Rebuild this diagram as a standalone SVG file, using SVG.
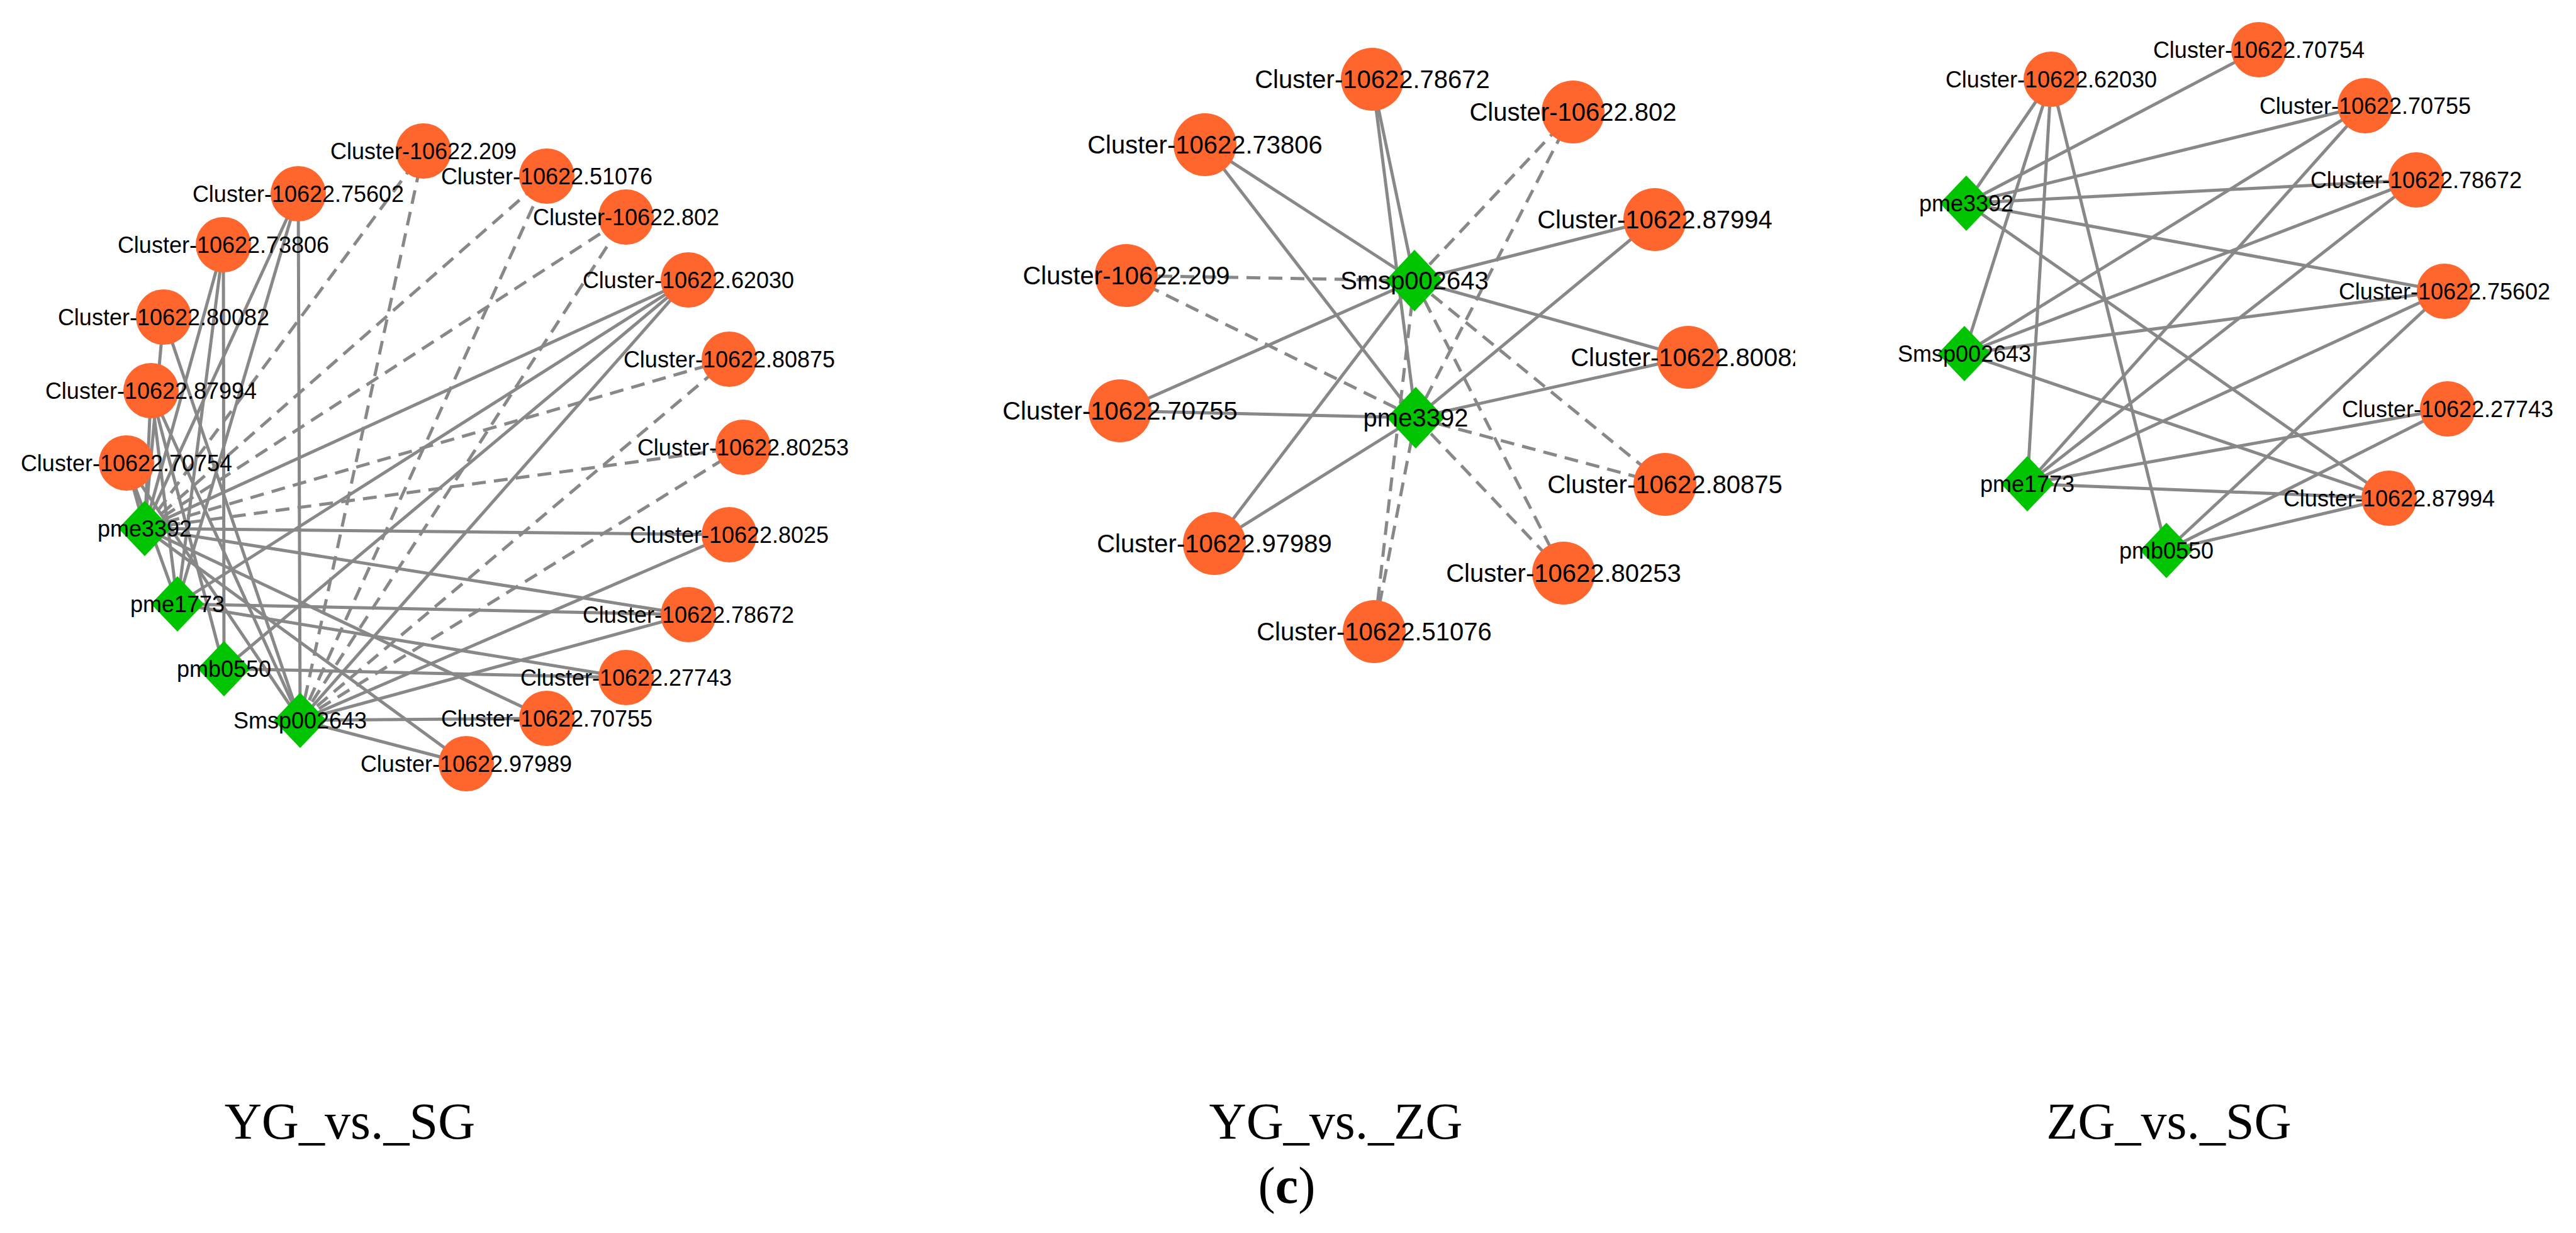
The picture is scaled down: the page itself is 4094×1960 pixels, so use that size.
<svg xmlns="http://www.w3.org/2000/svg" width="4094" height="1960" viewBox="0 0 4094 1960">
<style>
.e{stroke:#888;stroke-width:5;fill:none}
.d{stroke-dasharray:22 13}
.c{fill:#FF662E}
.g{fill:#00C400}
.t1{font-family:"Liberation Sans",Arial,sans-serif;font-size:36px;fill:#000;text-anchor:middle}
.t2{font-family:"Liberation Sans",Arial,sans-serif;font-size:40px;fill:#000;text-anchor:middle}
.ti{font-family:"Liberation Serif","Times New Roman",serif;font-size:82px;fill:#000;text-anchor:middle}
</style>
<defs>
<clipPath id="cp2"><rect x="1500" y="0" width="1353" height="1300"/></clipPath>
</defs>
<rect width="4094" height="1960" fill="#fff"/>

<!-- Panel 1 connectors -->
<g id="edges1">
<line class="e" x1="230" y1="840" x2="1094" y2="445"/>
<line class="e" x1="230" y1="840" x2="1159" y2="850"/>
<line class="e" x1="230" y1="840" x2="1094" y2="977"/>
<line class="e" x1="230" y1="840" x2="869" y2="1142"/>
<line class="e" x1="230" y1="840" x2="741" y2="1214"/>
<line class="e" x1="230" y1="840" x2="474" y2="308"/>
<line class="e" x1="230" y1="840" x2="355" y2="389"/>
<line class="e" x1="230" y1="840" x2="260" y2="504"/>
<line class="e" x1="230" y1="840" x2="240" y2="621"/>
<line class="e" x1="230" y1="840" x2="201" y2="736"/>
<line class="e d" x1="230" y1="840" x2="673" y2="240"/>
<line class="e d" x1="230" y1="840" x2="869" y2="280"/>
<line class="e d" x1="230" y1="840" x2="995" y2="345"/>
<line class="e d" x1="230" y1="840" x2="1159" y2="571"/>
<line class="e d" x1="230" y1="840" x2="1181" y2="711"/>
<line class="e" x1="282" y1="960" x2="1094" y2="445"/>
<line class="e" x1="282" y1="960" x2="1094" y2="977"/>
<line class="e" x1="282" y1="960" x2="995" y2="1077"/>
<line class="e" x1="282" y1="960" x2="474" y2="308"/>
<line class="e" x1="282" y1="960" x2="355" y2="389"/>
<line class="e" x1="282" y1="960" x2="240" y2="621"/>
<line class="e" x1="282" y1="960" x2="201" y2="736"/>
<line class="e" x1="356" y1="1063" x2="1094" y2="445"/>
<line class="e" x1="356" y1="1063" x2="995" y2="1077"/>
<line class="e" x1="356" y1="1063" x2="355" y2="389"/>
<line class="e" x1="356" y1="1063" x2="240" y2="621"/>
<line class="e" x1="477" y1="1145" x2="1094" y2="445"/>
<line class="e" x1="477" y1="1145" x2="1159" y2="850"/>
<line class="e" x1="477" y1="1145" x2="1094" y2="977"/>
<line class="e" x1="477" y1="1145" x2="869" y2="1142"/>
<line class="e" x1="477" y1="1145" x2="741" y2="1214"/>
<line class="e" x1="477" y1="1145" x2="474" y2="308"/>
<line class="e" x1="477" y1="1145" x2="240" y2="621"/>
<line class="e" x1="477" y1="1145" x2="260" y2="504"/>
<line class="e" x1="477" y1="1145" x2="201" y2="736"/>
<line class="e d" x1="477" y1="1145" x2="673" y2="240"/>
<line class="e d" x1="477" y1="1145" x2="869" y2="280"/>
<line class="e d" x1="477" y1="1145" x2="995" y2="345"/>
<line class="e d" x1="477" y1="1145" x2="1159" y2="571"/>
<line class="e d" x1="477" y1="1145" x2="1181" y2="711"/>
</g>

<!-- Panel 1 nodes -->
<g id="p1-c209"><circle class="c" cx="673" cy="240" r="44"/><text class="t1" x="673" y="253">Cluster-10622.209</text></g>
<g id="p1-c51076"><circle class="c" cx="869" cy="280" r="44"/><text class="t1" x="869" y="293">Cluster-10622.51076</text></g>
<g id="p1-c802"><circle class="c" cx="995" cy="345" r="44"/><text class="t1" x="995" y="358">Cluster-10622.802</text></g>
<g id="p1-c62030"><circle class="c" cx="1094" cy="445" r="44"/><text class="t1" x="1094" y="458">Cluster-10622.62030</text></g>
<g id="p1-c80875"><circle class="c" cx="1159" cy="571" r="44"/><text class="t1" x="1159" y="584">Cluster-10622.80875</text></g>
<g id="p1-c80253"><circle class="c" cx="1181" cy="711" r="44"/><text class="t1" x="1181" y="724">Cluster-10622.80253</text></g>
<g id="p1-c8025"><circle class="c" cx="1159" cy="850" r="44"/><text class="t1" x="1159" y="863">Cluster-10622.8025</text></g>
<g id="p1-c78672"><circle class="c" cx="1094" cy="977" r="44"/><text class="t1" x="1094" y="990">Cluster-10622.78672</text></g>
<g id="p1-c27743"><circle class="c" cx="995" cy="1077" r="44"/><text class="t1" x="995" y="1090">Cluster-10622.27743</text></g>
<g id="p1-c70755"><circle class="c" cx="869" cy="1142" r="44"/><text class="t1" x="869" y="1155">Cluster-10622.70755</text></g>
<g id="p1-c97989"><circle class="c" cx="741" cy="1214" r="44"/><text class="t1" x="741" y="1227">Cluster-10622.97989</text></g>
<g id="p1-c75602"><circle class="c" cx="474" cy="308" r="44"/><text class="t1" x="474" y="321">Cluster-10622.75602</text></g>
<g id="p1-c73806"><circle class="c" cx="355" cy="389" r="44"/><text class="t1" x="355" y="402">Cluster-10622.73806</text></g>
<g id="p1-c80082"><circle class="c" cx="260" cy="504" r="44"/><text class="t1" x="260" y="517">Cluster-10622.80082</text></g>
<g id="p1-c87994"><circle class="c" cx="240" cy="621" r="44"/><text class="t1" x="240" y="634">Cluster-10622.87994</text></g>
<g id="p1-c70754"><circle class="c" cx="201" cy="736" r="44"/><text class="t1" x="201" y="749">Cluster-10622.70754</text></g>
<g id="p1-pme3392"><polygon class="g" points="230,796 272,840 230,884 188,840"/><text class="t1" x="230" y="853">pme3392</text></g>
<g id="p1-pme1773"><polygon class="g" points="282,916 324,960 282,1004 240,960"/><text class="t1" x="282" y="973">pme1773</text></g>
<g id="p1-pmb0550"><polygon class="g" points="356,1019 398,1063 356,1107 314,1063"/><text class="t1" x="356" y="1076">pmb0550</text></g>
<g id="p1-smsp"><polygon class="g" points="477,1101 519,1145 477,1189 435,1145"/><text class="t1" x="477" y="1158">Smsp002643</text></g>

<!-- Panel 2 -->
<g clip-path="url(#cp2)">
<g id="edges2">
<line class="e" x1="2248" y1="446" x2="2181" y2="126"/>
<line class="e" x1="2248" y1="446" x2="1915" y2="230"/>
<line class="e d" x1="2248" y1="446" x2="1790" y2="438"/>
<line class="e d" x1="2248" y1="446" x2="2500" y2="178"/>
<line class="e" x1="2248" y1="446" x2="2630" y2="349"/>
<line class="e" x1="2248" y1="446" x2="2683" y2="568"/>
<line class="e d" x1="2248" y1="446" x2="2646" y2="770"/>
<line class="e d" x1="2248" y1="446" x2="2485" y2="911"/>
<line class="e" x1="2248" y1="446" x2="1780" y2="653"/>
<line class="e" x1="2248" y1="446" x2="1930" y2="864"/>
<line class="e d" x1="2248" y1="446" x2="2184" y2="1004"/>
<line class="e" x1="2250" y1="664" x2="2181" y2="126"/>
<line class="e" x1="2250" y1="664" x2="1915" y2="230"/>
<line class="e d" x1="2250" y1="664" x2="1790" y2="438"/>
<line class="e d" x1="2250" y1="664" x2="2500" y2="178"/>
<line class="e" x1="2250" y1="664" x2="2630" y2="349"/>
<line class="e" x1="2250" y1="664" x2="2683" y2="568"/>
<line class="e d" x1="2250" y1="664" x2="2646" y2="770"/>
<line class="e d" x1="2250" y1="664" x2="2485" y2="911"/>
<line class="e" x1="2250" y1="664" x2="1780" y2="653"/>
<line class="e" x1="2250" y1="664" x2="1930" y2="864"/>
<line class="e d" x1="2250" y1="664" x2="2184" y2="1004"/>
</g>
<g id="p2-c78672"><circle class="c" cx="2181" cy="126" r="50"/><text class="t2" x="2181" y="140">Cluster-10622.78672</text></g>
<g id="p2-c802"><circle class="c" cx="2500" cy="178" r="50"/><text class="t2" x="2500" y="192">Cluster-10622.802</text></g>
<g id="p2-c73806"><circle class="c" cx="1915" cy="230" r="50"/><text class="t2" x="1915" y="244">Cluster-10622.73806</text></g>
<g id="p2-c87994"><circle class="c" cx="2630" cy="349" r="50"/><text class="t2" x="2630" y="363">Cluster-10622.87994</text></g>
<g id="p2-c209"><circle class="c" cx="1790" cy="438" r="50"/><text class="t2" x="1790" y="452">Cluster-10622.209</text></g>
<g id="p2-c80082"><circle class="c" cx="2683" cy="568" r="50"/><text class="t2" x="2683" y="582">Cluster-10622.80082</text></g>
<g id="p2-c70755"><circle class="c" cx="1780" cy="653" r="50"/><text class="t2" x="1780" y="667">Cluster-10622.70755</text></g>
<g id="p2-c80875"><circle class="c" cx="2646" cy="770" r="50"/><text class="t2" x="2646" y="784">Cluster-10622.80875</text></g>
<g id="p2-c97989"><circle class="c" cx="1930" cy="864" r="50"/><text class="t2" x="1930" y="878">Cluster-10622.97989</text></g>
<g id="p2-c80253"><circle class="c" cx="2485" cy="911" r="50"/><text class="t2" x="2485" y="925">Cluster-10622.80253</text></g>
<g id="p2-c51076"><circle class="c" cx="2184" cy="1004" r="50"/><text class="t2" x="2184" y="1018">Cluster-10622.51076</text></g>
<g id="p2-smsp"><polygon class="g" points="2248,397 2294,446 2248,495 2202,446"/><text class="t2" x="2248" y="460">Smsp002643</text></g>
<g id="p2-pme3392"><polygon class="g" points="2250,615 2296,664 2250,713 2204,664"/><text class="t2" x="2250" y="678">pme3392</text></g>
</g>

<!-- Panel 3 -->
<g id="edges3">
<line class="e" x1="3125" y1="323" x2="3260" y2="126"/>
<line class="e" x1="3122" y1="562" x2="3260" y2="126"/>
<line class="e" x1="3222" y1="769" x2="3260" y2="126"/>
<line class="e" x1="3443" y1="875" x2="3260" y2="126"/>
<line class="e" x1="3125" y1="323" x2="3590" y2="79"/>
<line class="e" x1="3125" y1="323" x2="3759" y2="168"/>
<line class="e" x1="3122" y1="562" x2="3759" y2="168"/>
<line class="e" x1="3222" y1="769" x2="3759" y2="168"/>
<line class="e" x1="3125" y1="323" x2="3840" y2="286"/>
<line class="e" x1="3122" y1="562" x2="3840" y2="286"/>
<line class="e" x1="3222" y1="769" x2="3840" y2="286"/>
<line class="e" x1="3125" y1="323" x2="3885" y2="463"/>
<line class="e" x1="3122" y1="562" x2="3885" y2="463"/>
<line class="e" x1="3222" y1="769" x2="3885" y2="463"/>
<line class="e" x1="3443" y1="875" x2="3885" y2="463"/>
<line class="e" x1="3222" y1="769" x2="3890" y2="650"/>
<line class="e" x1="3443" y1="875" x2="3890" y2="650"/>
<line class="e" x1="3125" y1="323" x2="3797" y2="792"/>
<line class="e" x1="3122" y1="562" x2="3797" y2="792"/>
<line class="e" x1="3222" y1="769" x2="3797" y2="792"/>
<line class="e" x1="3443" y1="875" x2="3797" y2="792"/>
</g>
<g id="p3-c70754"><circle class="c" cx="3590" cy="79" r="44"/><text class="t1" x="3590" y="92">Cluster-10622.70754</text></g>
<g id="p3-c62030"><circle class="c" cx="3260" cy="126" r="44"/><text class="t1" x="3260" y="139">Cluster-10622.62030</text></g>
<g id="p3-c70755"><circle class="c" cx="3759" cy="168" r="44"/><text class="t1" x="3759" y="181">Cluster-10622.70755</text></g>
<g id="p3-c78672"><circle class="c" cx="3840" cy="286" r="44"/><text class="t1" x="3840" y="299">Cluster-10622.78672</text></g>
<g id="p3-c75602"><circle class="c" cx="3885" cy="463" r="44"/><text class="t1" x="3885" y="476">Cluster-10622.75602</text></g>
<g id="p3-c27743"><circle class="c" cx="3890" cy="650" r="44"/><text class="t1" x="3890" y="663">Cluster-10622.27743</text></g>
<g id="p3-c87994"><circle class="c" cx="3797" cy="792" r="44"/><text class="t1" x="3797" y="805">Cluster-10622.87994</text></g>
<g id="p3-pme3392"><polygon class="g" points="3125,279 3167,323 3125,367 3083,323"/><text class="t1" x="3125" y="336">pme3392</text></g>
<g id="p3-smsp"><polygon class="g" points="3122,518 3164,562 3122,606 3080,562"/><text class="t1" x="3122" y="575">Smsp002643</text></g>
<g id="p3-pme1773"><polygon class="g" points="3222,725 3264,769 3222,813 3180,769"/><text class="t1" x="3222" y="782">pme1773</text></g>
<g id="p3-pmb0550"><polygon class="g" points="3443,831 3485,875 3443,919 3401,875"/><text class="t1" x="3443" y="888">pmb0550</text></g>

<!-- Titles -->
<text class="ti" x="556" y="1810">YG_vs._SG</text>
<text class="ti" x="2123" y="1810">YG_vs._ZG</text>
<text class="ti" x="3447" y="1810">ZG_vs._SG</text>
<text class="ti" x="2045" y="1912">(<tspan font-weight="bold">c</tspan>)</text>
</svg>
